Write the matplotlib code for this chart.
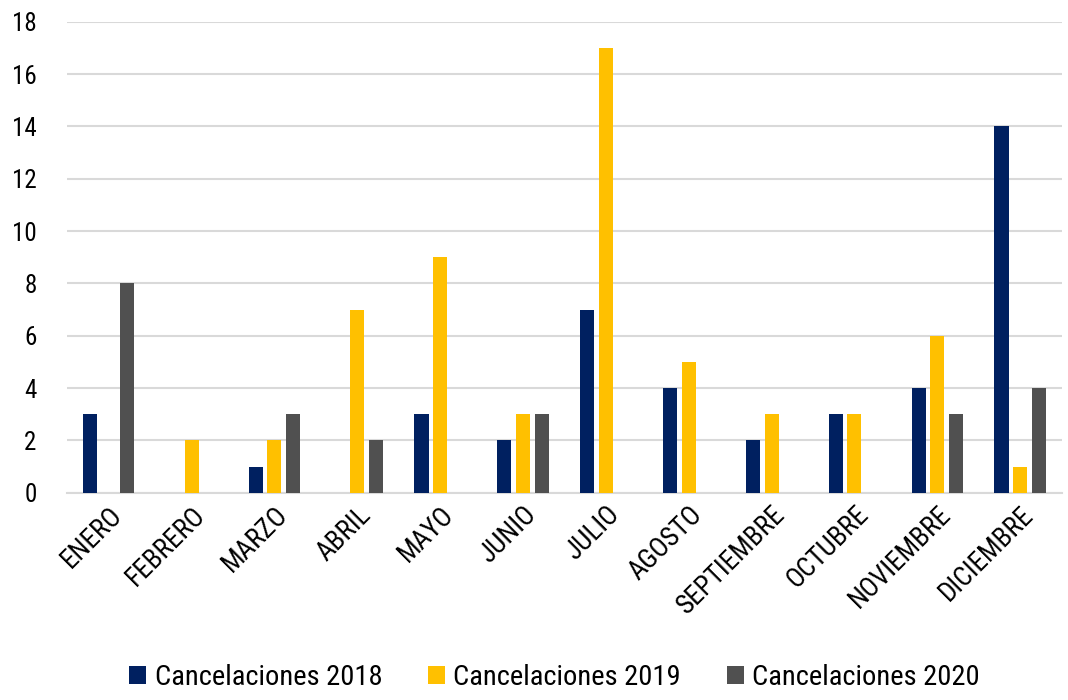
import numpy as np
import matplotlib.pyplot as plt

meses = ['ENERO', 'FEBRERO', 'MARZO', 'ABRIL', 'MAYO', 'JUNIO', 'JULIO',
         'AGOSTO', 'SEPTIEMBRE', 'OCTUBRE', 'NOVIEMBRE', 'DICIEMBRE']
canc_2018 = [3, 0, 1, 0, 3, 2, 7, 4, 2, 3, 4, 14]
canc_2019 = [0, 2, 2, 7, 9, 3, 17, 5, 3, 3, 6, 1]
canc_2020 = [8, 0, 3, 2, 0, 3, 0, 0, 0, 0, 3, 4]

plt.rcParams['font.family'] = ['Roboto Condensed', 'Liberation Sans Narrow', 'DejaVu Sans']

fig = plt.figure(figsize=(10.68, 7.0), dpi=100)
ax = fig.add_axes([0.063, 0.296, 0.931, 0.673])

x = np.arange(len(meses))
w = 0.17
off = 0.225
series = [(canc_2018, '#002060', 'Cancelaciones 2018'),
          (canc_2019, '#FFC000', 'Cancelaciones 2019'),
          (canc_2020, '#505050', 'Cancelaciones 2020')]
for i, (vals, col, lab) in enumerate(series):
    ax.bar(x + (i - 1) * off, vals, width=w, color=col, label=lab, zorder=3)

ax.set_xlim(-0.5, len(meses) - 0.5)
ax.set_ylim(0, 18)
ax.set_yticks(range(0, 19, 2))
ax.yaxis.grid(True, color='#D9D9D9', linewidth=1.5, zorder=0)
ax.set_axisbelow(True)
for s in ['top', 'right', 'left']:
    ax.spines[s].set_visible(False)
ax.spines['bottom'].set_color('#D9D9D9')
ax.spines['bottom'].set_linewidth(1.5)
ax.tick_params(axis='y', length=0, labelsize=18, colors='black', pad=22)
ax.tick_params(axis='x', length=0, labelsize=19.5, colors='black', pad=6)
ax.set_xticks(x)
ax.set_xticklabels(meses, rotation=45, ha='right', rotation_mode='anchor')

ax.legend(loc='lower center', bbox_to_anchor=(0.49, -0.475), ncol=3,
          frameon=False, fontsize=20.5, handlelength=0.6, handleheight=0.6,
          columnspacing=1.6, handletextpad=0.3)

fig.savefig('out.png', dpi=100)
